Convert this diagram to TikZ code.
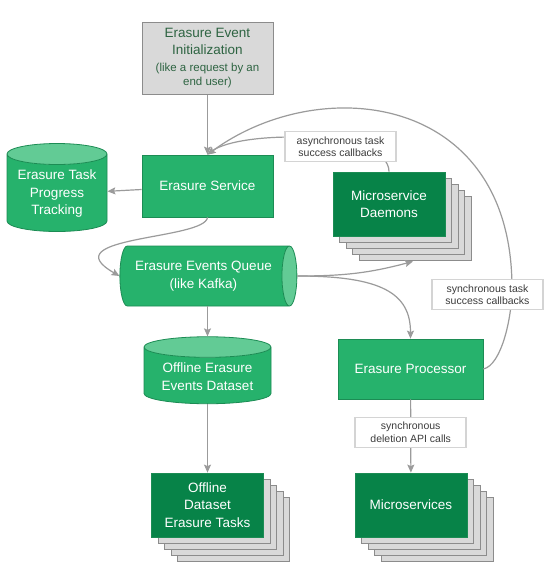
\documentclass[tikz,border=0pt]{standalone}
\usepackage{fontspec}
\setmainfont{Liberation Sans}
\usetikzlibrary{shapes.geometric,shadows,arrows.meta,calc}
\definecolor{boxgreen}{RGB}{38,178,108}
\definecolor{edgegreen}{RGB}{28,140,84}
\definecolor{darkgreen}{RGB}{7,131,72}
\definecolor{topgreen}{RGB}{98,203,149}
\definecolor{stackgray}{RGB}{217,217,217}
\definecolor{stackedge}{RGB}{140,140,140}
\definecolor{linegray}{RGB}{155,155,155}
\definecolor{lblgray}{RGB}{212,212,212}
\definecolor{lbltext}{RGB}{60,60,60}
\definecolor{inittext}{RGB}{46,100,66}
\newcommand\boxfont{\fontsize{13.5}{17.5}\selectfont}
\newcommand\lblfont{\fontsize{10.5}{12.5}\selectfont}
\newcommand\notefont{\fontsize{11.5}{14}\selectfont}
\begin{document}
\begin{tikzpicture}[x=1pt,y=-1pt,
	every node/.style={align=center,inner sep=1pt},
	conn/.style={draw=linegray,line width=1.2pt,-{Stealth[length=8pt,width=7pt,inset=1.5pt]}},
	box/.style={rectangle,draw=edgegreen,line width=0.8pt,fill=boxgreen,text=white,font=\boxfont,
		minimum width=#1,minimum height=62pt},
	stackbox/.style={rectangle,draw=edgegreen,line width=0.8pt,fill=darkgreen,text=white,font=\boxfont,
		minimum width=112pt,minimum height=64pt,
		copy shadow={shadow xshift=26pt,shadow yshift=-24pt,fill=stackgray,draw=stackedge,line width=1pt},
		copy shadow={shadow xshift=19.5pt,shadow yshift=-18pt,fill=stackgray,draw=stackedge,line width=1pt},
		copy shadow={shadow xshift=13pt,shadow yshift=-12pt,fill=stackgray,draw=stackedge,line width=1pt},
		copy shadow={shadow xshift=6.5pt,shadow yshift=-6pt,fill=stackgray,draw=stackedge,line width=1pt}},
	db/.style={cylinder,draw=edgegreen,line width=0.8pt,cylinder uses custom fill,
		cylinder body fill=boxgreen,cylinder end fill=topgreen,text=white,font=\boxfont},
	lbl/.style={rectangle,draw=lblgray,line width=1.5pt,fill=white,text=lbltext,font=\lblfont,
		minimum width=111pt,minimum height=30pt}]
\useasboundingbox[fill=white] (0,0) rectangle (548,587);

\node[rectangle,draw=stackedge,line width=1pt,fill=stackgray,text=inittext,font=\boxfont,
	minimum width=131pt,minimum height=72pt] (init) at (207.5,58)
	{Erasure Event\\Initialization\\[-1pt]\notefont(like a request by an\\[-3pt]\notefont end user)};
\node[box=131pt] (svc) at (207.5,186) {Erasure Service};
\node[db,shape border rotate=90,aspect=0.26,minimum width=100pt,minimum height=88pt] (track) at (57,194)
	{Erasure Task\\Progress\\Tracking};
\node[db,aspect=0.47,minimum width=60pt,minimum height=177pt] (queue) at (203.5,276)
	{Erasure Events Queue\\(like Kafka)};
\node[db,shape border rotate=90,aspect=0.22,minimum width=127pt,minimum height=67pt] (dataset) at (207.5,376.5)
	{Offline Erasure\\Events Dataset};
\node[stackbox] (tasks) at (207.5,505) {Offline\\Dataset\\Erasure Tasks};
\node[stackbox] (micro) at (411,505) {Microservices};
\node[stackbox] (daemons) at (389,204) {Microservice\\Daemons};
\node[box=145pt,minimum height=60pt] (proc) at (410.5,369) {Erasure Processor};

\draw[conn] (init) -- (svc);
\draw[conn] (svc) -- (track);
\draw[conn] (svc.south) .. controls (205,240) and (50,236) .. (queue.west);
\draw[conn] (queue.south -| dataset.north) -- (dataset);
\draw[conn] (dataset) -- (tasks);
\draw[conn] (queue.east) .. controls +(45,0) and +(-45,12) .. ($(daemons.south)+(24,25)$);
\draw[conn] (queue.east) .. controls +(85,0) and +(0,-45) .. (proc.north);
\draw[conn] (proc) -- node[lbl,pos=0.45] (apilbl) {synchronous\\deletion API calls} (micro);
\draw[conn] (daemons.north) .. controls +(0,-42) and (240,130) .. (svc.north);
\coordinate (bend) at (512,288);
\draw[conn] (proc.east) .. controls +(18,-4) and +(0,30) .. (bend)
	.. controls +(0,-195) and (320,72) .. (svc.north);

\node[lbl] (asynclbl) at (340.5,146.5) {asynchronous task\\success callbacks};
\node[lbl] (synclbl) at (487.5,294.5) {synchronous task\\success callbacks};
\end{tikzpicture}
\end{document}
